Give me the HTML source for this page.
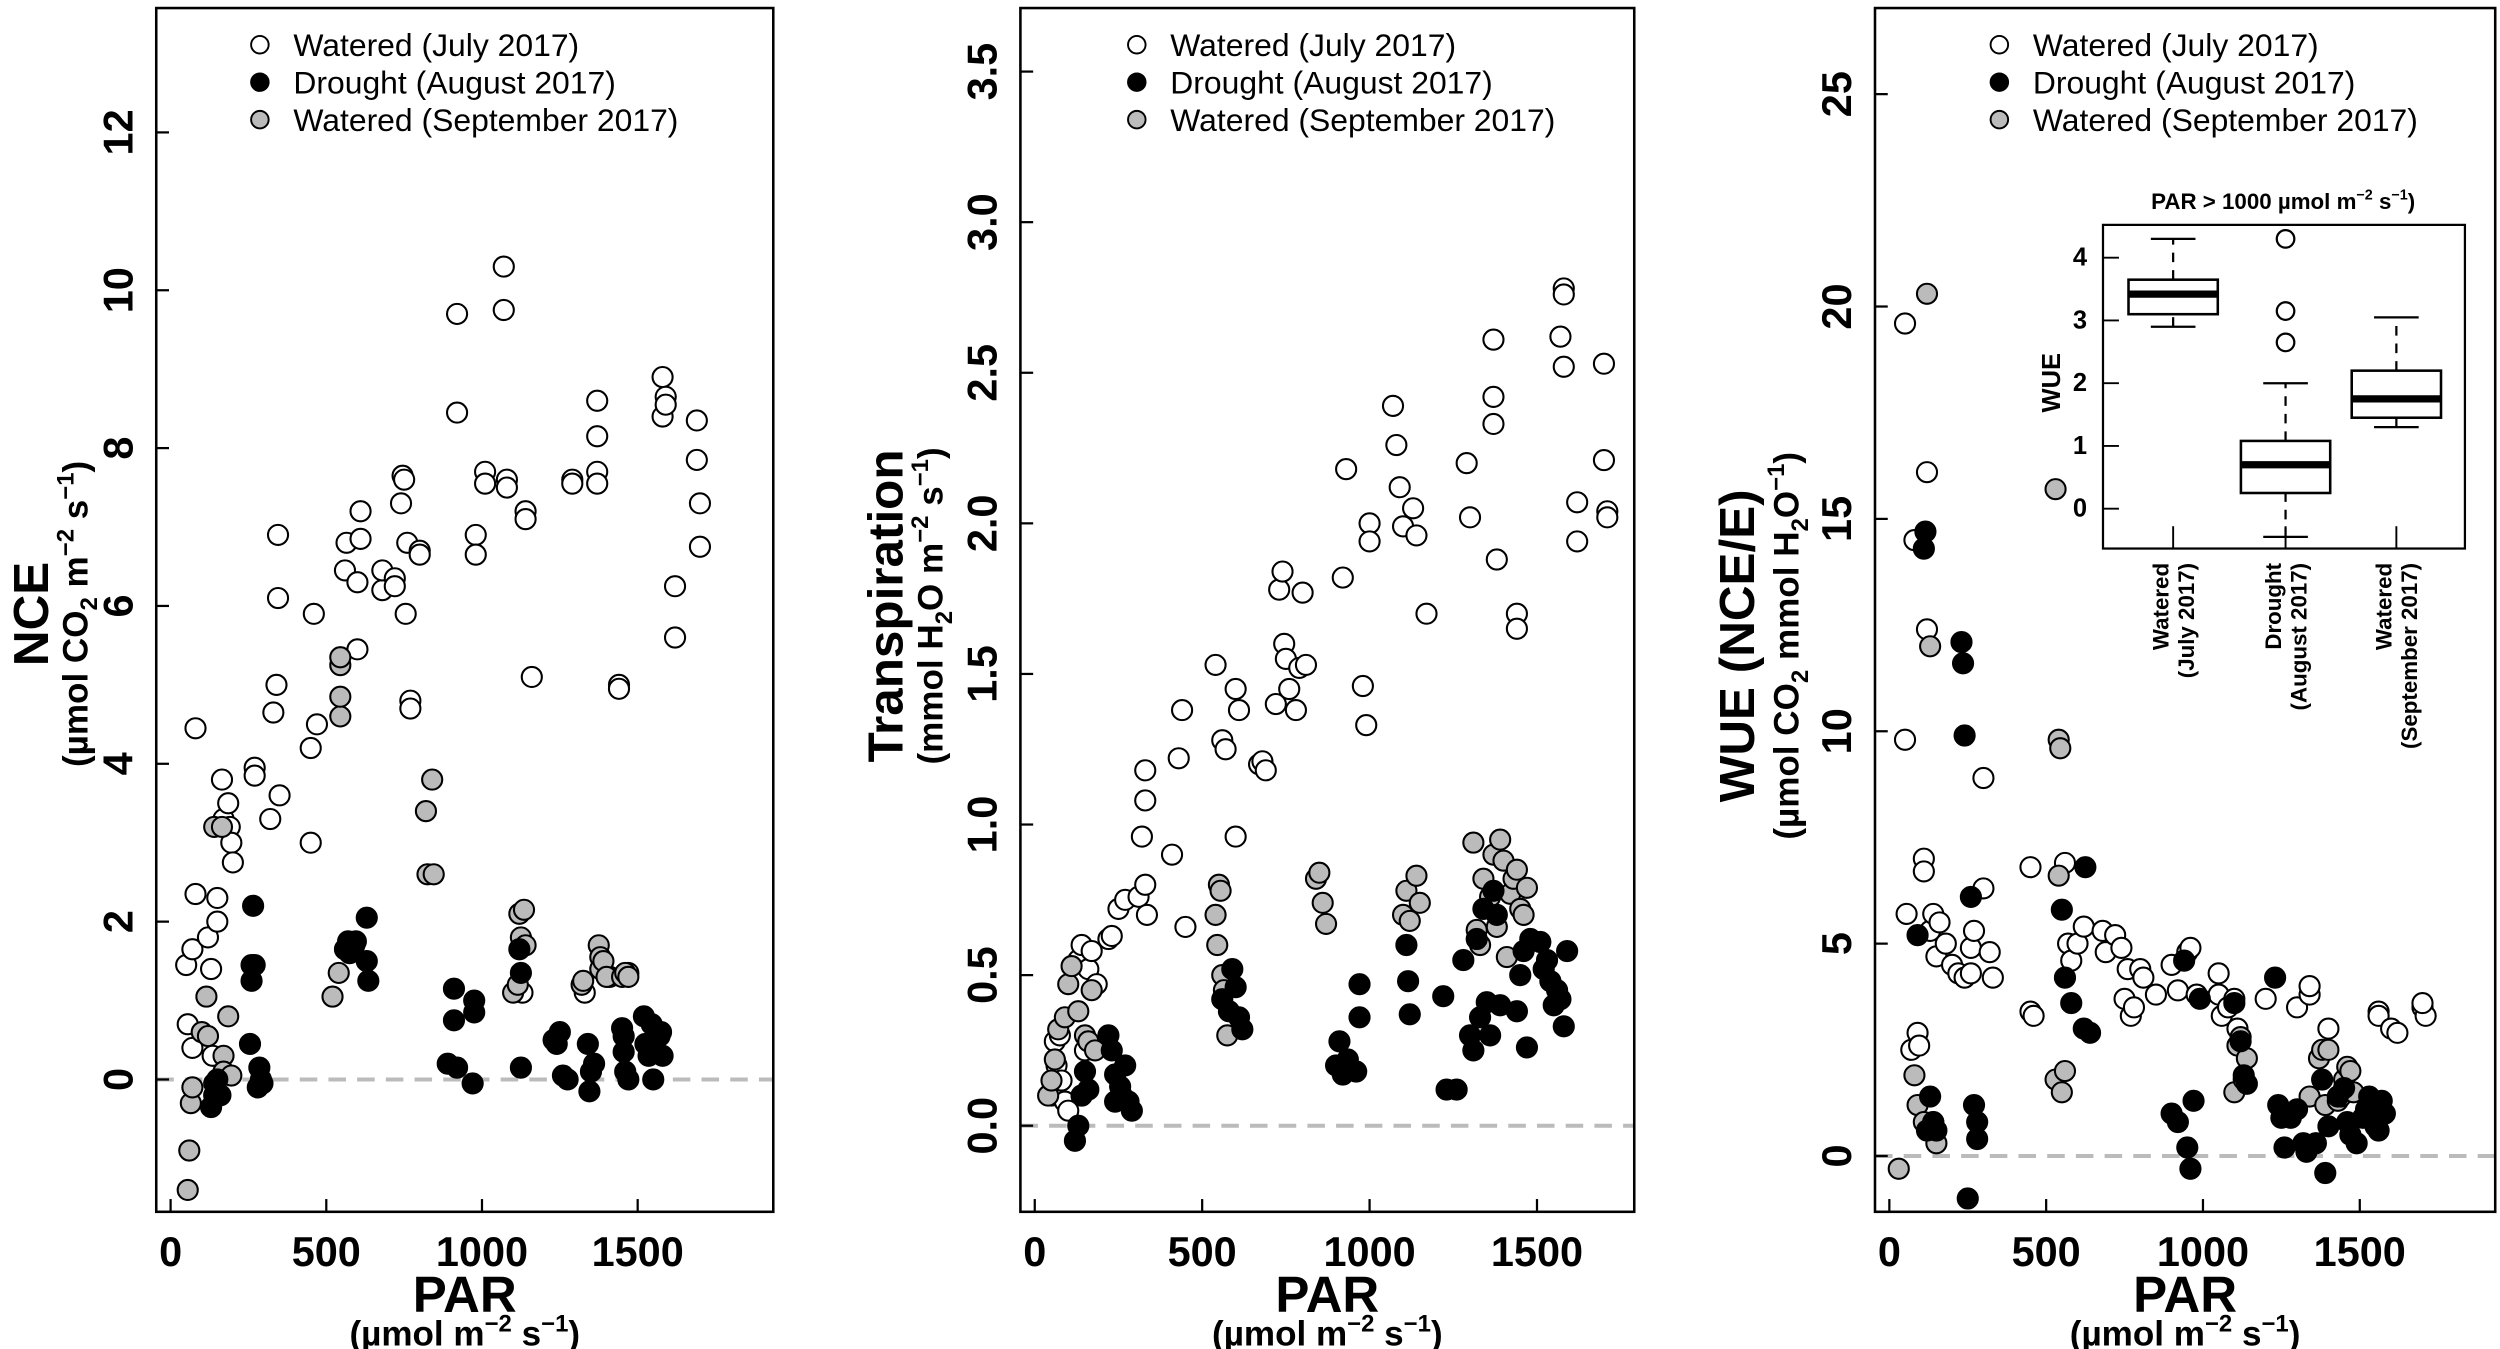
<!DOCTYPE html>
<html><head><meta charset="utf-8"><style>
html,body{margin:0;padding:0;background:#fff}
svg{display:block}
text{font-family:"Liberation Sans",Arial,sans-serif}
</style></head><body>
<svg id="s" width="2500" height="1349" viewBox="0 0 1568 846" xmlns="http://www.w3.org/2000/svg">
<rect width="1568" height="846" fill="#fff"/>
<g id="g"></g>
</svg>
<script>
const NS="http://www.w3.org/2000/svg";const G=document.getElementById('g');
function el(t,a,txt){const e=document.createElementNS(NS,t);for(const k in a)e.setAttribute(k,a[k]);if(txt!==undefined)e.textContent=txt;G.appendChild(e);return e;}
function tx(x,y,s,size,opts={}){const a={x:x,y:y,'font-size':size,'text-anchor':opts.anchor||'middle','font-weight':opts.bold===false?'normal':'bold',fill:'#000'};if(opts.rot)a.transform=`rotate(-90 ${x} ${y})`;const e=el('text',a);e.innerHTML=s;return e;}
function panel(P){
 const {L,R,T,B,x0,xs,y0,ys}=P;
 const X=v=>x0+xs*v, Y=v=>y0-ys*v;
 el('line',{x1:L,x2:R,y1:y0,y2:y0,stroke:'#bbb','stroke-width':2.5,'stroke-dasharray':'11,7'});
 el('rect',{x:L,y:T,width:R-L,height:B-T,fill:'none',stroke:'#000','stroke-width':1.6});
 P.yt.forEach(v=>{const y=Y(v);el('line',{x1:L,x2:L+8,y1:y,y2:y,stroke:'#000','stroke-width':1.4});tx(L-15,y,P.yl(v),26,{rot:1});});
 [0,500,1000,1500].forEach(v=>{const x=X(v);el('line',{x1:x,x2:x,y1:B,y2:B-8,stroke:'#000','stroke-width':1.4});tx(x,B+34,String(v),26);});
 const cx=(L+R)/2;
 tx(cx,B+63,'PAR',32);
 tx(cx,B+84,'(µmol m<tspan dy="-9" font-size="15">−2</tspan><tspan dy="9"> s</tspan><tspan dy="-9" font-size="15">−1</tspan><tspan dy="9">)</tspan>',22);
 tx(P.lx,P.ly,P.lab,31,{rot:1});
 tx(P.lx+(P.so||25),P.ly,P.sub,22,{rot:1});
 const lg=[['#fff','Watered (July 2017)'],['#000','Drought (August 2017)'],['#bbb','Watered (September 2017)']];
 lg.forEach((l,i)=>{const y=28+i*23.5;el('circle',{cx:P.lgx,cy:y,r:5.5,fill:l[0],stroke:'#000','stroke-width':1.2});tx(P.lgx+21,y+7,l[1],20,{anchor:'start',bold:false});});
 const draw=(arr,fill)=>{for(let i=0;i<arr.length;i+=2){el('circle',{cx:X(arr[i]),cy:Y(arr[i+1]),r:6.3,fill:fill,stroke:'#000','stroke-width':1.3});}};
 draw(P.w,'#fff');draw(P.g,'#bbb');draw(P.b,'#000');
}
const p1w=[50,1.45,55,0.7,70,1.65,70,0.4,80,4.45,80,2.35,120,1.8,130,1.4,135,0.3,150,2.3,150,2.0,165,3.8,170,3.3,185,3.5,190,3.2,195,3.0,200,2.75,270,3.95,270,3.85,320,3.3,330,4.65,340,5.0,345,6.1,345,6.9,350,3.6,450,4.2,450,3.0,460,5.9,470,4.5,560,6.45,565,6.8,600,6.3,600,5.45,610,6.85,610,7.2,680,6.2,680,6.45,720,6.35,720,6.25,740,7.3,745,7.65,750,7.6,755,5.9,760,6.8,770,4.8,770,4.7,800,6.7,800,6.65,920,9.7,920,8.45,980,6.9,980,6.65,1010,7.7,1010,7.55,1070,10.3,1070,9.75,1080,7.6,1080,7.5,1140,7.2,1140,7.1,1160,5.1,1290,7.6,1290,7.55,1330,1.1,1370,8.6,1370,8.15,1370,7.7,1370,7.55,1440,5.0,1440,4.95,1580,8.9,1580,8.4,1590,8.65,1590,8.55,1620,6.25,1620,5.6,1690,8.35,1690,7.85,1700,7.3,1700,6.75,1470,1.35,1410,1.3,1130,1.1];
const p1b=[130,-0.35,140,-0.2,140,-0.05,160,-0.2,150,0,255,0.45,260,1.25,260,1.45,265,2.2,270,1.45,280,-0.1,285,0.15,290,0.0,295,-0.05,560,1.65,570,1.75,575,1.6,590,1.7,595,1.75,630,2.05,630,1.5,635,1.25,890,0.2,910,1.15,910,0.75,920,0.15,970,-0.05,975,1.0,975,0.85,1120,1.65,1125,1.35,1125,0.15,1230,0.5,1240,0.45,1250,0.6,1260,0.05,1275,0.0,1340,0.45,1345,-0.15,1350,0.1,1360,0.2,1450,0.65,1455,0.55,1455,0.35,1460,0.1,1470,0.0,1520,0.8,1525,0.45,1535,0.3,1545,0.7,1550,0.5,1550,0.0,1560,0.35,1570,0.55,1575,0.6,1580,0.3];
const p1g=[55,-1.4,60,-0.9,65,-0.3,70,-0.1,100,0.6,115,1.05,120,0.55,140,3.2,165,3.2,170,0.3,170,0.1,185,0.8,195,0.05,520,1.05,540,1.35,545,4.6,545,4.85,545,5.25,545,5.35,820,3.4,825,2.6,840,3.8,845,2.6,1100,1.1,1115,1.2,1120,2.1,1125,1.8,1135,2.15,1140,1.7,1320,1.2,1325,1.25,1375,1.7,1380,1.55,1380,1.4,1390,1.5,1400,1.3,1450,1.3,1460,1.35,1470,1.3];
const p2w=[50,0.1,60,0.28,65,0.2,75,0.3,80,0.15,90,0.08,100,0.05,130,0.55,140,0.6,150,0.25,160,0.52,170,0.58,185,0.47,220,0.62,230,0.63,250,0.72,270,0.75,310,0.76,320,0.96,330,0.8,330,1.18,330,1.08,335,0.7,410,0.9,430,1.22,440,1.38,450,0.66,540,1.53,560,1.28,570,1.25,600,1.45,610,1.38,600,0.96,670,1.2,680,1.21,690,1.18,720,1.4,730,1.78,740,1.84,745,1.6,750,1.55,760,1.45,780,1.38,790,1.52,800,1.77,810,1.53,920,1.82,930,2.18,980,1.46,990,1.33,1000,2.0,1000,1.94,1070,2.39,1080,2.26,1090,2.12,1100,1.99,1130,2.05,1140,1.96,1170,1.7,1290,2.2,1300,2.02,1370,2.61,1370,2.42,1370,2.33,1380,1.88,1440,1.7,1440,1.65,1570,2.62,1580,2.52,1580,2.78,1580,2.76,1620,2.07,1620,1.94,1700,2.53,1700,2.21,1710,2.04,1710,2.02];
const p2b=[120,-0.05,130,0.0,140,0.1,150,0.18,160,0.12,220,0.3,230,0.25,240,0.17,240,0.08,255,0.13,260,0.1,270,0.2,280,0.08,290,0.05,560,0.42,580,0.38,590,0.52,600,0.46,610,0.36,620,0.32,900,0.2,910,0.28,920,0.17,935,0.22,960,0.18,970,0.47,970,0.36,1110,0.6,1115,0.48,1120,0.37,1220,0.43,1230,0.12,1260,0.12,1280,0.55,1300,0.3,1310,0.25,1320,0.62,1330,0.36,1340,0.72,1350,0.41,1360,0.3,1370,0.78,1380,0.7,1390,0.4,1440,0.38,1450,0.5,1460,0.58,1470,0.26,1480,0.62,1510,0.61,1520,0.52,1530,0.55,1540,0.48,1550,0.4,1560,0.45,1570,0.42,1580,0.33,1590,0.58];
const p2g=[40,0.1,50,0.15,60,0.22,70,0.32,90,0.36,100,0.47,110,0.53,130,0.38,140,0.1,150,0.3,160,0.28,170,0.45,180,0.25,540,0.7,545,0.6,550,0.8,555,0.78,560,0.5,565,0.45,575,0.3,840,0.82,850,0.84,860,0.74,870,0.67,1100,0.7,1110,0.78,1120,0.68,1140,0.83,1150,0.74,1310,0.94,1320,0.65,1330,0.6,1340,0.82,1360,0.76,1370,0.9,1380,0.66,1390,0.95,1400,0.88,1410,0.56,1420,0.77,1430,0.82,1440,0.85,1450,0.72,1460,0.7,1470,0.79];
const p3w=[50,19.6,50,9.8,55,5.7,70,2.5,80,14.5,90,2.9,95,2.6,110,7.0,110,6.7,120,16.1,120,12.4,130,5.3,140,5.7,150,4.7,160,5.5,180,5.0,200,4.5,220,4.3,240,4.2,260,4.9,260,4.3,270,5.3,300,8.9,300,6.3,320,4.8,330,4.2,450,6.8,450,3.4,460,3.3,560,6.9,570,5.0,580,4.6,600,5.0,620,5.4,680,5.3,690,4.8,720,5.2,740,4.9,750,3.7,760,4.4,770,3.3,780,3.5,800,4.4,810,4.2,850,3.8,900,4.5,920,3.9,950,4.8,960,4.9,980,3.8,1050,4.3,1050,3.8,1060,3.3,1080,3.5,1100,3.7,1110,3.0,1200,3.7,1300,3.5,1340,3.8,1340,4.0,1400,3.0,1560,3.4,1560,3.3,1600,3.0,1620,2.9,1700,3.5,1710,3.3,1700,3.6];
const p3b=[90,5.2,110,14.3,115,14.7,120,0.6,130,1.4,140,0.8,150,0.6,230,12.1,235,11.6,240,9.9,260,6.1,270,1.2,280,0.4,280,0.8,250,-1.0,550,5.8,560,4.2,580,3.6,620,3.0,625,6.8,640,2.9,900,1.0,920,0.8,940,4.6,950,0.2,960,-0.3,970,1.3,990,3.7,1100,3.6,1120,2.7,1130,1.9,1140,1.7,1230,4.2,1240,1.2,1250,0.9,1260,0.2,1280,0.9,1300,1.1,1320,0.3,1330,0.1,1360,0.3,1380,1.8,1390,-0.4,1400,0.7,1430,1.4,1450,1.6,1460,0.8,1470,0.5,1490,0.3,1510,0.9,1520,1.1,1530,1.4,1540,1.2,1550,0.7,1560,0.6,1570,1.3,1580,1.0];
const p3g=[30,-0.3,80,1.9,90,1.2,110,0.8,120,20.3,130,12.0,140,0.8,150,0.3,530,15.7,540,9.8,545,9.6,530,1.8,540,6.6,560,2.0,550,1.5,1100,1.5,1110,2.6,1120,2.8,1130,1.8,1140,2.3,1340,1.4,1370,2.3,1380,2.5,1390,1.2,1400,2.5,1430,1.3,1440,1.4,1450,1.8,1460,2.1,1470,2.0,1480,1.5];
const sub1='(µmol CO<tspan dy="6" font-size="15">2</tspan><tspan dy="-6"> m</tspan><tspan dy="-9" font-size="15">−2</tspan><tspan dy="9"> s</tspan><tspan dy="-9" font-size="15">−1</tspan><tspan dy="9">)</tspan>';
const sub2='(mmol H<tspan dy="6" font-size="15">2</tspan><tspan dy="-6">O m</tspan><tspan dy="-9" font-size="15">−2</tspan><tspan dy="9"> s</tspan><tspan dy="-9" font-size="15">−1</tspan><tspan dy="9">)</tspan>';
const sub3='(µmol CO<tspan dy="6" font-size="15">2</tspan><tspan dy="-6"> mmol H</tspan><tspan dy="6" font-size="15">2</tspan><tspan dy="-6">O</tspan><tspan dy="-9" font-size="15">−1</tspan><tspan dy="9">)</tspan>';
panel({L:98,R:485,T:5,B:760,x0:107,xs:0.1953,y0:677,ys:49.5,yt:[0,2,4,6,8,10,12],yl:v=>String(v),lx:30,ly:385,lab:'NCE',sub:sub1,lgx:163,w:p1w,b:p1b,g:p1g});
panel({L:640,R:1025,T:5,B:760,x0:649,xs:0.21,y0:706,ys:188.9,yt:[0,0.5,1,1.5,2,2.5,3,3.5],yl:v=>v.toFixed(1),lx:566,ly:380,lab:'Transpiration',sub:sub2,lgx:713,w:p2w,b:p2b,g:p2g});
panel({L:1176,R:1565,T:5,B:760,x0:1185,xs:0.1967,y0:725,ys:26.64,yt:[0,5,10,15,20,25],yl:v=>String(v),lx:1100,so:28,ly:405,lab:'WUE (NCE/E)',sub:sub3,lgx:1254,w:p3w,b:p3b,g:p3g});
(function(){
 const L=1319,R=1546,T=141,B=344,y0=319,ys=39.35;const Y=v=>y0-ys*v;
 el('rect',{x:L,y:T,width:R-L,height:B-T,fill:'#fff',stroke:'#000','stroke-width':1.4});
 tx(1432,131,'PAR &gt; 1000 µmol m<tspan dy="-6" font-size="9">−2</tspan><tspan dy="6"> s</tspan><tspan dy="-6" font-size="9">−1</tspan><tspan dy="6">)</tspan>',14);
 [0,1,2,3,4].forEach(v=>{el('line',{x1:L,x2:L+10,y1:Y(v),y2:Y(v),stroke:'#000','stroke-width':1.2});tx(L-10,Y(v)+5,String(v),16,{anchor:'end'});});
 tx(1292,240,'WUE',16,{rot:1});
 const bx=[[1363,2.9,3.1,3.42,3.65,4.3,[]],[1433.5,-0.45,0.25,0.7,1.08,2.0,[2.65,3.15,4.3]],[1503,1.3,1.45,1.75,2.2,3.05,[]]];
 const labs=[['Watered','(July 2017)'],['Drought','(August 2017)'],['Watered','(September 2017)']];
 bx.forEach((b,i)=>{const [x,lo,q1,m,q3,hi,out]=b;const hw=28;
  el('line',{x1:x,x2:x,y1:Y(lo),y2:Y(q1),stroke:'#000','stroke-width':1.4,'stroke-dasharray':'6,5'});
  el('line',{x1:x,x2:x,y1:Y(q3),y2:Y(hi),stroke:'#000','stroke-width':1.4,'stroke-dasharray':'6,5'});
  el('line',{x1:x-14,x2:x+14,y1:Y(lo),y2:Y(lo),stroke:'#000','stroke-width':1.4});
  el('line',{x1:x-14,x2:x+14,y1:Y(hi),y2:Y(hi),stroke:'#000','stroke-width':1.4});
  el('rect',{x:x-hw,y:Y(q3),width:2*hw,height:Y(q1)-Y(q3),fill:'#fff',stroke:'#000','stroke-width':1.6});
  el('line',{x1:x-hw,x2:x+hw,y1:Y(m),y2:Y(m),stroke:'#000','stroke-width':4.5});
  out.forEach(o=>el('circle',{cx:x,cy:Y(o),r:5.5,fill:'none',stroke:'#000','stroke-width':1.4}));
  el('line',{x1:x,x2:x,y1:B,y2:B-14,stroke:'#000','stroke-width':1.2});
  tx(x-3,353,labs[i][0],14,{rot:1,anchor:'end'});
  tx(x+13,353,labs[i][1],14,{rot:1,anchor:'end'});
 });
})();
</script>
</body></html>
